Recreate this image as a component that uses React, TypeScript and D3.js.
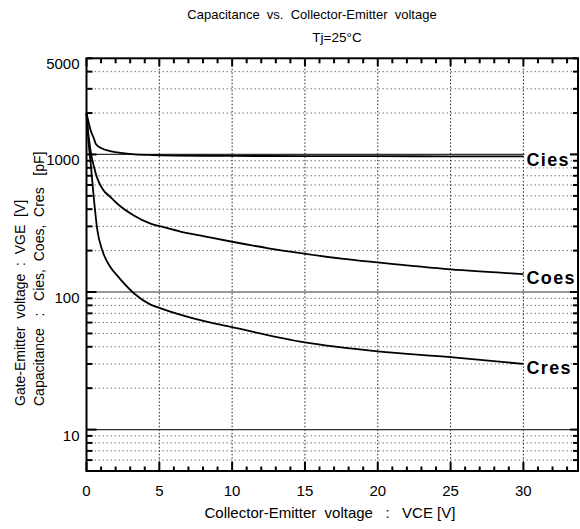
import React from "react";
import * as d3 from "d3";

// ---- data ----
const vceCies = [0, 0.29, 0.52, 0.64, 1.07, 1.5, 2.1, 3.3, 4.5, 6, 10, 15, 20, 25, 30];
const cies = [2000, 1490, 1296, 1192, 1105, 1065, 1036, 1003, 990, 982, 976, 973, 971, 970, 970];

const vceCoes = [0, 0.1, 0.29, 0.52, 0.75, 1.09, 1.66, 2.1, 3.25, 4.4, 5.3, 6.45, 8.1, 10, 12.5, 15, 17.5, 20, 25, 30];
const coes = [2000, 1500, 1050, 806, 667, 564, 488, 440, 360, 314, 296, 275, 254, 232, 208, 190, 175, 164, 146, 135];

const vceCres = [0, 0.15, 0.29, 0.52, 0.75, 1.09, 1.66, 2.1, 3.25, 4.4, 5.1, 7.4, 10, 15, 20, 25, 30];
const cres = [2000, 1200, 855, 461, 279, 200, 151, 132, 98, 81, 76, 64, 55.5, 43, 37, 33.6, 30];

const seriesNames = ["Cies", "Coes", "Cres"];
const xTickLabels = [0, 5, 10, 15, 20, 25, 30];
const yTickLabels = [10, 100, 1000, 5000];
const yMajorGrid = [10, 100, 1000];

const titleLine1 = "Capacitance  vs.  Collector-Emitter  voltage";
const titleLine2 = "Tj=25°C";
const xTitle = "Collector-Emitter  voltage   :   VCE [V]";
const yTitle1 = "Gate-Emitter  voltage  :  VGE  [V]";
const yTitle2 = "Capacitance   :   Cies,  Coes,  Cres   [pF]";

// ---- layout ----
const W = 580, H = 529;
const LEFT = 86.5, RIGHT = 578, TOP = 58.3, BOTTOM = 471;
const X_MAX = 33.75;

const x = d3.scaleLinear().domain([0, X_MAX]).range([LEFT, RIGHT]);
const y = d3.scaleLog().domain([5, 5000]).range([BOTTOM, TOP]);

const font = "'Liberation Sans', Arial, Helvetica, sans-serif";

export default function App() {
  const line = d3
    .line<[number, number]>()
    .x((d) => x(d[0]))
    .y((d) => y(d[1]))
    .curve(d3.curveMonotoneX);

  const series = [
    { name: seriesNames[0], v: vceCies, c: cies },
    { name: seriesNames[1], v: vceCoes, c: coes },
    { name: seriesNames[2], v: vceCres, c: cres },
  ];

  const yMinor: number[] = [];
  for (let dec = 1; dec <= 1000; dec *= 10) {
    for (let m = 1; m <= 9; m++) {
      const v = m * dec;
      if (v >= 5 && v <= 5000) yMinor.push(v);
    }
  }
  const xMinor = d3.range(0, Math.floor(X_MAX) + 1);

  return (
    <svg
      width={W}
      height={H}
      style={{ position: "absolute", left: 0, top: 0, background: "#fff" }}
      fontFamily={font}
    >
      <rect x={0} y={0} width={W} height={H} fill="#fff" />
      {/* Title */}
      <text x={312} y={19} fontSize={13} textAnchor="middle" style={{ whiteSpace: "pre" }}>
        {titleLine1}
      </text>
      <text x={337} y={41.5} fontSize={13.5} textAnchor="middle">
        {titleLine2}
      </text>

      {/* minor horizontal grid */}
      {yMinor
        .filter((v) => v > 5 && v < 5000 && !yMajorGrid.includes(v))
        .map((v) => (
          <line
            key={"hg" + v}
            x1={LEFT}
            x2={RIGHT}
            y1={y(v)}
            y2={y(v)}
            stroke="#777"
            strokeWidth={1}
            strokeDasharray="1.5,2.5"
          />
        ))}
      {/* vertical grid */}
      {xTickLabels
        .filter((v) => v > 0)
        .map((v) => (
          <line
            key={"vg" + v}
            x1={x(v)}
            x2={x(v)}
            y1={TOP}
            y2={BOTTOM}
            stroke="#222"
            strokeWidth={1}
            strokeDasharray="1.5,2"
          />
        ))}
      {/* major horizontal grid */}
      {yMajorGrid.map((v) => (
        <line
          key={"mg" + v}
          x1={LEFT}
          x2={RIGHT}
          y1={y(v)}
          y2={y(v)}
          stroke="#333"
          strokeWidth={1.2}
        />
      ))}

      {/* curves */}
      {series.map((s) => (
        <path
          key={s.name}
          d={line(s.v.map((v, i) => [v, s.c[i]] as [number, number])) || ""}
          fill="none"
          stroke="#000"
          strokeWidth={1.8}
        />
      ))}

      {/* series labels */}
      {series.map((s) => {
        const last = s.c[s.c.length - 1];
        const ly = y(last);
        return (
          <g key={"lbl" + s.name}>
            <rect x={x(30) + 1} y={ly - 6} width={46} height={17} fill="#fff" />
            <text
              x={x(30) + 3}
              y={ly + 10}
              fontSize={18}
              fontWeight="bold"
              letterSpacing={1.4}
            >
              {s.name}
            </text>
          </g>
        );
      })}

      {/* frame */}
      <rect
        x={LEFT}
        y={TOP}
        width={RIGHT - LEFT}
        height={BOTTOM - TOP}
        fill="none"
        stroke="#000"
        strokeWidth={2}
      />

      {/* x ticks bottom & top */}
      {xMinor.map((v) => {
        const major = v % 5 === 0;
        return (
          <g key={"xt" + v}>
            <line x1={x(v)} x2={x(v)} y1={BOTTOM} y2={BOTTOM - (major ? 9 : 4.5)} stroke="#000" strokeWidth={2} />
            <line x1={x(v)} x2={x(v)} y1={TOP} y2={TOP + (major ? 8 : 5)} stroke="#000" strokeWidth={2} />
          </g>
        );
      })}
      {/* y ticks left & right */}
      {yMinor.map((v) => {
        const major = yMajorGrid.includes(v);
        return (
          <g key={"yt" + v}>
            <line x1={LEFT} x2={LEFT + (major ? 10 : 6)} y1={y(v)} y2={y(v)} stroke="#000" strokeWidth={2} />
            <line x1={RIGHT} x2={RIGHT - (major ? 8 : 5)} y1={y(v)} y2={y(v)} stroke="#000" strokeWidth={2} />
          </g>
        );
      })}

      {/* tick labels */}
      {xTickLabels.map((v) => (
        <text key={"xl" + v} x={x(v)} y={495.5} fontSize={15} textAnchor="middle">
          {v}
        </text>
      ))}
      {yTickLabels.map((v) => (
        <text key={"yl" + v} x={79.5} y={y(v) + 11} fontSize={15} textAnchor="end">
          {v}
        </text>
      ))}

      {/* axis titles */}
      <text x={330} y={518} fontSize={15} textAnchor="middle" style={{ whiteSpace: "pre" }}>
        {xTitle}
      </text>
      <text
        transform="translate(25,406) rotate(-90)"
        fontSize={14}
        textAnchor="start"
        style={{ whiteSpace: "pre" }}
      >
        {yTitle1}
      </text>
      <text
        transform="translate(44,406) rotate(-90)"
        fontSize={14}
        textAnchor="start"
        style={{ whiteSpace: "pre" }}
      >
        {yTitle2}
      </text>
    </svg>
  );
}
